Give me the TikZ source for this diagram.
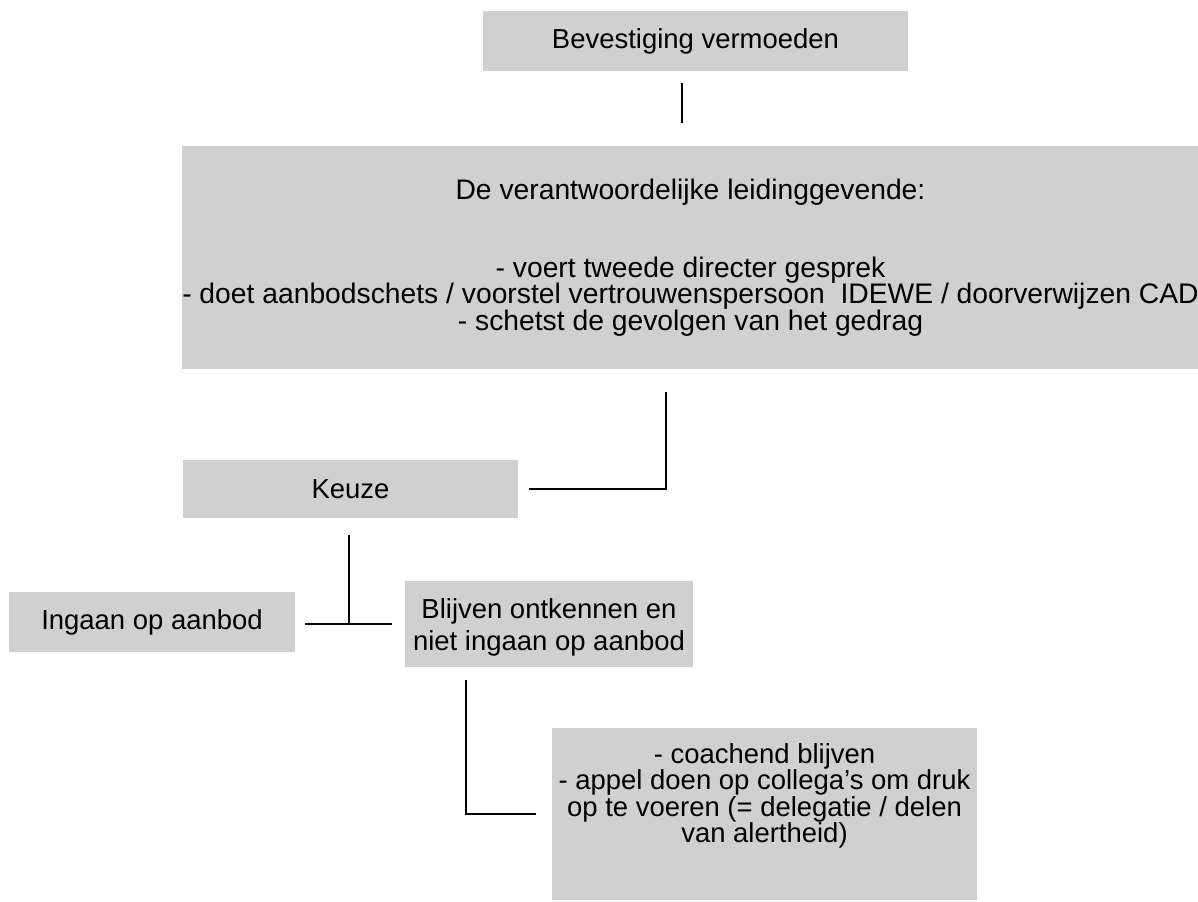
\documentclass[tikz,border=0pt]{standalone}
\usepackage{fontspec}
\setmainfont{Liberation Sans}
\begin{document}
\begin{tikzpicture}[x=0.75pt,y=0.75pt,yscale=-1,xscale=1,
  box/.style={fill={rgb, 255:red, 208; green, 208; blue, 208}, inner sep=0pt, align=center, font=\fontsize{20.6}{19.9}\selectfont},
  link/.style={line width=1.5pt}]
\useasboundingbox (0,0) rectangle (1198,901);

%Shape: Rectangle [bev]
\node [box, minimum width=318.75pt, minimum height=45pt] (bev) at (695.5,41) {Bevestiging vermoeden};
%Shape: Rectangle [leid]
\node [box, minimum width=761.25pt, minimum height=167.25pt, font=\fontsize{21.2}{19.9}\selectfont] (leid) at (690.5,257.5) {De verantwoordelijke leidinggevende:\\[38.6pt]- voert tweede directer gesprek\\- doet aanbodschets / voorstel vertrouwenspersoon\ \ IDEWE / doorverwijzen CAD\\- schetst de gevolgen van het gedrag};
%Shape: Rectangle [keuze]
\node [box, minimum width=251.25pt, minimum height=43.5pt] (keuze) at (350.5,489) {Keuze};
%Shape: Rectangle [ingaan]
\node [box, minimum width=214.5pt, minimum height=45pt] (ingaan) at (152,622) {Ingaan op aanbod};
%Shape: Rectangle [blijven]
\node [box, minimum width=216pt, minimum height=64.5pt, font=\fontsize{20.6}{24}\selectfont] (blijven) at (549,624) {\rule{0pt}{19.5pt}Blijven ontkennen en\\niet ingaan op aanbod};
%Shape: Rectangle [coach]
\node [box, minimum width=318.75pt, minimum height=129pt] (coach) at (764.5,814) {- coachend blijven\\- appel doen op collega’s om druk\\op te voeren (= delegatie / delen\\van alertheid)\\[11.6pt]\mbox{}};

%bends of the connectors
\coordinate (stam) at (682,0);
\coordinate (knikA) at (666,489);
\coordinate (splitB) at (349,624);
\coordinate (knikC) at (466,814);

%Straight Lines
\draw [link, shorten <=9pt, shorten >=17.25pt] (bev.south -| stam) -- (leid.north -| stam);
\draw [link, shorten <=17.25pt, shorten >=8.25pt] (leid.south -| knikA) -- (knikA) -- (keuze.east);
\draw [link, shorten <=12.75pt] (keuze.south -| splitB) -- (splitB);
\draw [link, shorten <=7.5pt, shorten >=9.75pt] (ingaan.east |- splitB) -- (blijven.west |- splitB);
\draw [link, shorten <=9.75pt, shorten >=12pt] (blijven.south -| knikC) -- (knikC) -- (coach.west);

\end{tikzpicture}
\end{document}
